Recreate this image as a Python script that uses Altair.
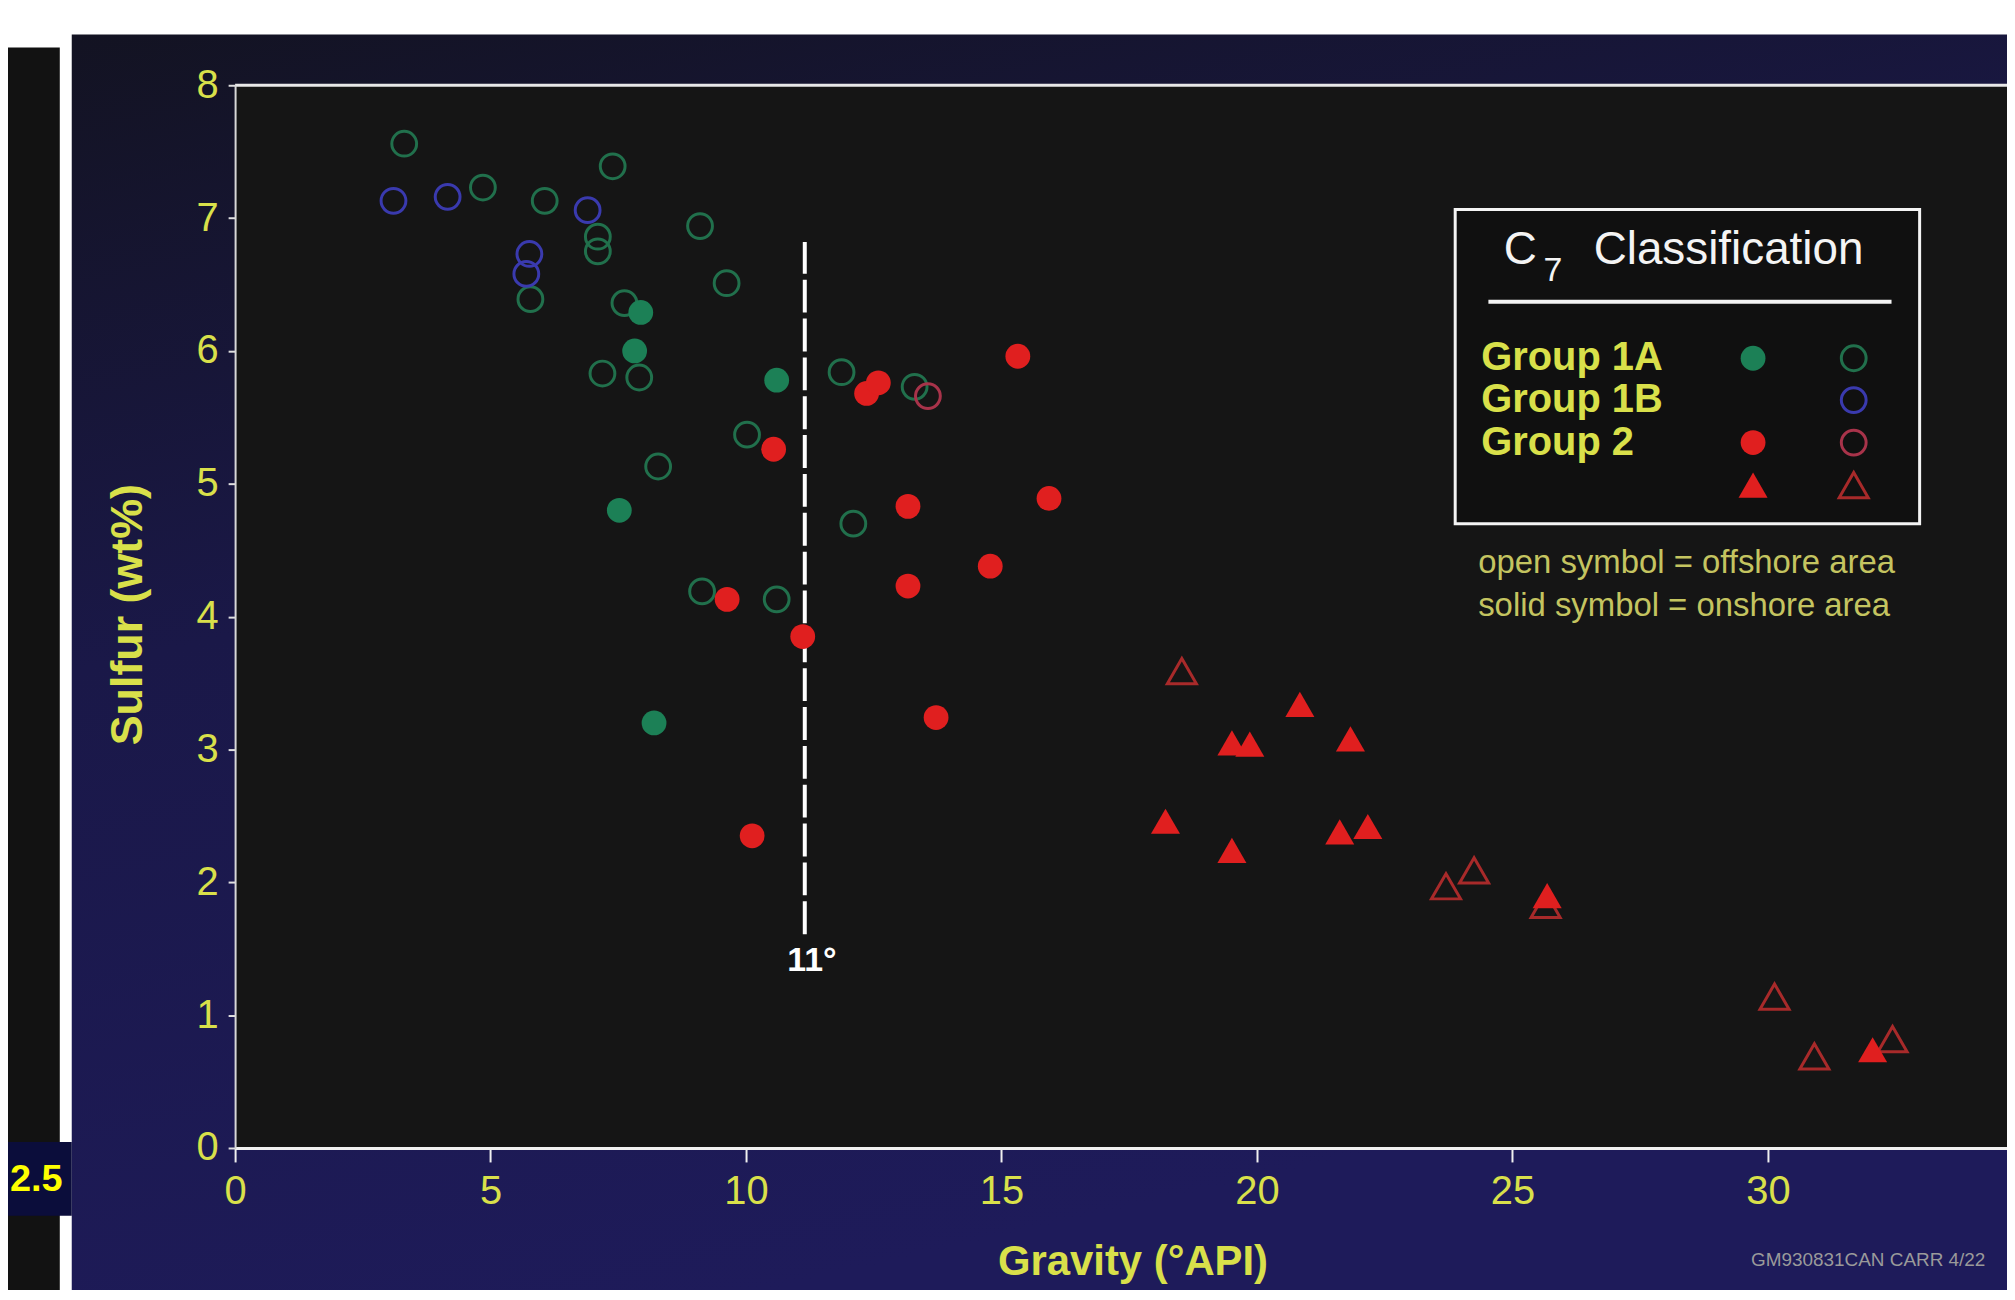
import altair as alt
import pandas as pd

# ---------------- data ----------------
g1a_open_gravity = [3.31, 4.85, 6.06, 7.39, 9.10, 5.78, 7.10, 7.10, 9.62, 7.62,
                    7.19, 7.91, 10.02, 8.28, 11.87, 13.30, 12.10, 9.14, 10.60]
g1a_open_sulfur = [7.56, 7.23, 7.13, 7.39, 6.94, 6.39, 6.86, 6.75, 6.51, 6.36,
                   5.83, 5.80, 5.37, 5.13, 5.84, 5.73, 4.70, 4.19, 4.13]
g1a_solid_gravity = [7.94, 7.82, 10.60, 7.52, 8.20]
g1a_solid_sulfur = [6.29, 6.00, 5.78, 4.80, 3.20]
g1b_open_gravity = [3.10, 4.16, 6.90, 5.76, 5.70]
g1b_open_sulfur = [7.13, 7.16, 7.06, 6.73, 6.58]
g2_solid_circle_gravity = [12.36, 12.59, 10.54, 13.17, 14.78, 13.17, 9.63, 11.11,
                           15.32, 15.93, 10.12, 13.72]
g2_solid_circle_sulfur = [5.68, 5.76, 5.26, 4.83, 4.38, 4.23, 4.13, 3.85,
                          5.96, 4.89, 2.35, 3.24]
g2_open_circle_gravity = [13.56]
g2_open_circle_sulfur = [5.66]
g2_solid_tri_gravity = [20.84, 19.51, 19.86, 21.83, 18.21, 19.51, 21.62, 22.17, 25.68, 32.05]
g2_solid_tri_sulfur = [3.34, 3.05, 3.04, 3.08, 2.46, 2.24, 2.38, 2.42, 1.90, 0.74]
g2_open_tri_gravity = [18.53, 23.70, 24.25, 25.65, 30.13, 30.91, 32.44]
g2_open_tri_sulfur = [3.59, 1.97, 2.09, 1.83, 1.14, 0.69, 0.82]

x_ticks = [0, 5, 10, 15, 20, 25, 30]
y_ticks = [0, 1, 2, 3, 4, 5, 6, 7, 8]
cutoff_gravity = 11.15
cutoff_label = "11°"
legend_groups = ["Group 1A", "Group 1B", "Group 2"]
legend_title_c = "C"
legend_title_sub = "7"
legend_title_rest = "Classification"
note_open = "open symbol = offshore area"
note_solid = "solid symbol = onshore area"
credit = "GM930831CAN  CARR  4/22"
slide_number = "2.5"

# ---------------- layout / style ----------------
X_MAX = 34.68
Y_MAX = 8
W, H = 1779, 1067
FONT = "Liberation Sans"
YEL = "#d9e04a"
YEL_DIM = "#c4c460"
GREEN = "#1c8056"
GREEN_OPEN = "#21704c"
BLUE_OPEN = "#3a3aae"
RED = "#e01f1f"
RED_OPEN_C = "#a8334a"
RED_OPEN_T = "#a82a2a"
PLOT_BG = "#151515"
CIRCLE = 620
TRI = 850

xs = alt.Scale(domain=[0, X_MAX], nice=False, zero=False)
ys = alt.Scale(domain=[0, Y_MAX], nice=False, zero=False)

x_axis = alt.Axis(values=x_ticks, format="d", title="Gravity (°API)", grid=False,
                  labelFont=FONT, labelFontSize=40, labelColor=YEL, labelPadding=10,
                  labelFlush=False, labelOverlap=False,
                  domainColor="#f0f0f0", domainWidth=3, tickColor="#f0f0f0",
                  tickWidth=2, tickSize=14,
                  titleFont=FONT, titleFontSize=42, titleFontWeight="bold",
                  titleColor=YEL, titleX=901, titleY=114, titleBaseline="middle",
                  titleAlign="center", titleAngle=0, zindex=1)
y_axis = alt.Axis(values=y_ticks, format="d", title="Sulfur (wt%)", grid=False,
                  labelFont=FONT, labelFontSize=40, labelColor=YEL, labelPadding=10,
                  labelFlush=False, labelOverlap=False,
                  domainColor="#d8d8d8", domainWidth=2, tickColor="#e0e0e0",
                  tickWidth=2, tickSize=7,
                  titleFont=FONT, titleFontSize=45, titleFontWeight="bold",
                  titleColor=YEL, titleX=-108, titleY=531, titleBaseline="middle",
                  titleAlign="center", titleAngle=270, zindex=1)


def X(f):
    return alt.X(f"{f}:Q", scale=xs, axis=x_axis)


def Y(f):
    return alt.Y(f"{f}:Q", scale=ys, axis=y_axis)


def pts(gx, sy):
    return pd.DataFrame({"gx": gx, "sy": sy})


one = pd.DataFrame({"k": [0]})
layers = []

# slide decorations (pixel positions relative to plot origin)
layers.append(alt.Chart(one).mark_rect(
    fill=alt.LinearGradient(gradient="linear", x1=0, y1=0, x2=0.35, y2=1,
                            stops=[alt.GradientStop(color="#131322", offset=0),
                                   alt.GradientStop(color="#1a1848", offset=0.45),
                                   alt.GradientStop(color="#1e1b5a", offset=1)])
).encode(x=alt.value(-164), x2=alt.value(W), y=alt.value(-51), y2=alt.value(1215)))
layers.append(alt.Chart(one).mark_rect(fill="#121212").encode(
    x=alt.value(-230), x2=alt.value(-176), y=alt.value(-38), y2=alt.value(1215)))
layers.append(alt.Chart(one).mark_rect(fill="#0b0d3b").encode(
    x=alt.value(-230), x2=alt.value(-164), y=alt.value(1061), y2=alt.value(1135)))
layers.append(alt.Chart(one).mark_text(
    align="left", baseline="middle", font=FONT, fontSize=38, fontWeight="bold",
    color="#ffff00").encode(x=alt.value(-226), y=alt.value(1099), text=alt.value(slide_number)))

# plot area background & top border
frame = pd.DataFrame({"x0": [0], "x1": [X_MAX], "y0": [0], "y1": [Y_MAX]})
layers.append(alt.Chart(frame).mark_rect(fill=PLOT_BG).encode(
    x=X("x0"), x2="x1:Q", y=Y("y0"), y2="y1:Q"))
layers.append(alt.Chart(frame).mark_rule(color="#e8e8e8", strokeWidth=3).encode(
    x=X("x0"), x2="x1:Q", y=Y("y1")))

# 11 degree cut-off line
cut = pd.DataFrame({"gx": [cutoff_gravity], "y0": [1.61], "y1": [6.82],
                    "lx": [11.29], "ly": [1.41], "t": [cutoff_label]})
layers.append(alt.Chart(cut).mark_rule(color="white", strokeWidth=4, strokeDash=[33, 6]).encode(
    x=X("gx"), y=Y("y0"), y2="y1:Q"))
layers.append(alt.Chart(cut).mark_text(font=FONT, fontSize=34, fontWeight="bold",
                                       color="white", align="center", baseline="middle").encode(
    x=X("lx"), y=Y("ly"), text="t:N"))


def sym(df, shape, filled, color, size):
    if filled:
        m = alt.Chart(df).mark_point(shape=shape, filled=True, fill=color, opacity=1,
                                     size=size, strokeWidth=0)
    else:
        m = alt.Chart(df).mark_point(shape=shape, filled=False, stroke=color, opacity=1,
                                     size=size, strokeWidth=3)
    return m.encode(x=X("gx"), y=Y("sy"))


series = [
    (pts(g1a_open_gravity, g1a_open_sulfur), "circle", False, GREEN_OPEN, CIRCLE),
    (pts(g1b_open_gravity, g1b_open_sulfur), "circle", False, BLUE_OPEN, CIRCLE),
    (pts(g2_open_circle_gravity, g2_open_circle_sulfur), "circle", False, RED_OPEN_C, CIRCLE),
    (pts(g2_open_tri_gravity, g2_open_tri_sulfur), "triangle-up", False, RED_OPEN_T, TRI),
    (pts(g1a_solid_gravity, g1a_solid_sulfur), "circle", True, GREEN, CIRCLE),
    (pts(g2_solid_circle_gravity, g2_solid_circle_sulfur), "circle", True, RED, CIRCLE),
    (pts(g2_solid_tri_gravity, g2_solid_tri_sulfur), "triangle-up", True, RED, TRI),
]
for df, shape, filled, color, size in series:
    layers.append(sym(df, shape, filled, color, size))

# legend box (in data coordinates)
box = pd.DataFrame({"x0": [23.88], "x1": [32.97], "y0": [4.70], "y1": [7.065]})
layers.append(alt.Chart(box).mark_rect(fill="#101010", stroke="#f4f4f4", strokeWidth=3).encode(
    x=X("x0"), x2="x1:Q", y=Y("y0"), y2="y1:Q"))
uline = pd.DataFrame({"x0": [24.53], "x1": [32.42], "y": [6.37]})
layers.append(alt.Chart(uline).mark_rule(color="#f4f4f4", strokeWidth=4).encode(
    x=X("x0"), x2="x1:Q", y=Y("y")))


def txt(x, y, t, size, color, weight="normal", align="left"):
    d = pd.DataFrame({"gx": [x], "sy": [y], "t": [t]})
    return alt.Chart(d).mark_text(font=FONT, fontSize=size, fontWeight=weight, color=color,
                                  align=align, baseline="middle").encode(
        x=X("gx"), y=Y("sy"), text="t:N")


layers.append(txt(24.83, 6.76, legend_title_c, 46, "#f4f4f4"))
layers.append(txt(25.61, 6.60, legend_title_sub, 34, "#f4f4f4"))
layers.append(txt(26.59, 6.76, legend_title_rest, 46, "#f4f4f4"))
row_y = [5.945, 5.63, 5.31, 4.99]
for label, yy in zip(legend_groups, row_y):
    layers.append(txt(24.39, yy, label, 40, YEL, weight="bold"))

lx_solid, lx_open = 29.71, 31.68
leg = [
    (lx_solid, row_y[0], "circle", True, GREEN, CIRCLE),
    (lx_open, row_y[0], "circle", False, GREEN_OPEN, CIRCLE),
    (lx_open, row_y[1], "circle", False, BLUE_OPEN, CIRCLE),
    (lx_solid, row_y[2], "circle", True, RED, CIRCLE),
    (lx_open, row_y[2], "circle", False, RED_OPEN_C, CIRCLE),
    (lx_solid, row_y[3], "triangle-up", True, RED, TRI),
    (lx_open, row_y[3], "triangle-up", False, RED_OPEN_T, TRI),
]
for x, y, shape, filled, color, size in leg:
    layers.append(sym(pts([x], [y]), shape, filled, color, size))

layers.append(txt(24.33, 4.40, note_open, 33, YEL_DIM))
layers.append(txt(24.33, 4.08, note_solid, 33, YEL_DIM))
layers.append(txt(29.67, -0.84, credit, 19, "#9a9a9a"))

chart = alt.layer(*layers).properties(
    width=W, height=H,
    padding={"left": 228, "top": 75, "right": 0, "bottom": 140},
    autosize=alt.AutoSizeParams(type="none"),
    background="white",
).configure_view(strokeWidth=0)

chart.save("out.html", embed_options={"renderer": "svg", "actions": False})
